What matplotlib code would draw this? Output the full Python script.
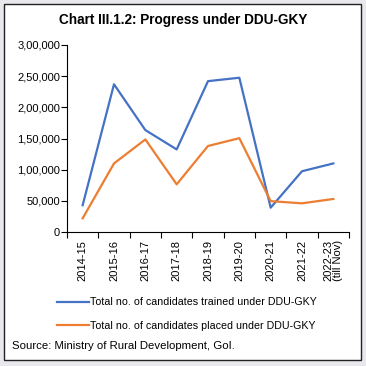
import matplotlib
matplotlib.use("Agg")
import matplotlib.pyplot as plt
from matplotlib.patches import Rectangle
from matplotlib.ticker import FuncFormatter, FixedLocator

plt.rcParams['font.family'] = ['Liberation Sans', 'DejaVu Sans']

categories = ["2014-15", "2015-16", "2016-17", "2017-18", "2018-19",
              "2019-20", "2020-21", "2021-22", "2022-23\n(till Nov)"]
trained = [43000, 237000, 163500, 132500, 242000, 247500, 39000, 97500, 110000]
placed = [22000, 110000, 148500, 76500, 138000, 150500, 49500, 46000, 53000]
yticks = [0, 50000, 100000, 150000, 200000, 250000, 300000]

def indian(v, pos=None):
    v = int(round(v))
    if v == 0:
        return "0"
    s = str(v)
    last3 = s[-3:]
    rest = s[:-3]
    parts = []
    while len(rest) > 2:
        parts.insert(0, rest[-2:])
        rest = rest[:-2]
    if rest:
        parts.insert(0, rest)
    return ",".join(parts + [last3])

fig = plt.figure(figsize=(3.66, 3.66), dpi=100)
fig.patch.set_facecolor('#e9e9ed')
bg = fig.add_axes([0, 0, 1, 1], zorder=-5)
bg.set_xlim(0, 366)
bg.set_ylim(366, 0)
bg.axis('off')
bg.add_patch(Rectangle((4, 4), 357, 356, facecolor='white',
                       edgecolor='#222222', linewidth=1.0))

ax = fig.add_axes([67/366, 1-232/366, (349-67)/366, (232-45)/366])
ax.set_facecolor('none')
x = list(range(len(categories)))
ax.plot(x, trained, color='#4472C4', linewidth=1.6,
        label='Total no. of candidates trained under DDU-GKY')
ax.plot(x, placed, color='#ED7D31', linewidth=1.6,
        label='Total no. of candidates placed under DDU-GKY')

ax.set_xlim(-0.5, len(categories) - 0.5)
ax.set_ylim(0, 300000)
ax.set_yticks(yticks)
ax.yaxis.set_major_formatter(FuncFormatter(indian))
ax.set_xticks(x)
ax.set_xticklabels(categories, rotation=90, fontsize=8, linespacing=0.85)
ax.tick_params(axis='x', length=0, pad=6)
ax.xaxis.set_minor_locator(FixedLocator([i - 0.5 for i in range(len(categories) + 1)]))
ax.tick_params(axis='x', which='minor', length=4, width=0.8, direction='out')
ax.tick_params(axis='y', length=4, width=0.8, labelsize=8, pad=1)
for s in ['top', 'right']:
    ax.spines[s].set_visible(False)
for s in ['left', 'bottom']:
    ax.spines[s].set_linewidth(0.8)

fig.text(0.5, 1-20/366, "Chart III.1.2: Progress under DDU-GKY",
         ha='center', va='center', fontsize=9.8, fontweight='bold')

leg = fig.legend(loc='upper left', bbox_to_anchor=(53/366, 1-293/366),
                 frameon=False, fontsize=7.7, handlelength=3.0,
                 handletextpad=0.1, labelspacing=1.25, borderaxespad=0)

fig.text(12/366, 1-346/366, "Source: Ministry of Rural Development, GoI.",
         ha='left', va='center', fontsize=8.2)

fig.savefig("out.png", dpi=100, facecolor=fig.get_facecolor())
